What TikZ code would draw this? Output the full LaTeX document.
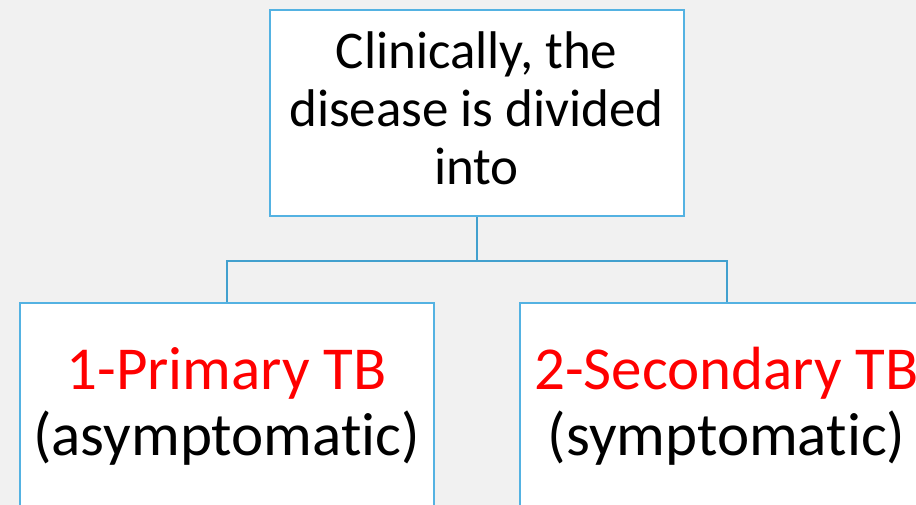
\documentclass[tikz,border=0pt]{standalone}
\usepackage{fontspec}
\usetikzlibrary{calc}
\setmainfont[Ligatures=NoCommon]{Carlito}
\definecolor{bg}{RGB}{241,241,241}
\definecolor{boxline}{RGB}{84,178,226}
\definecolor{conn}{RGB}{66,160,206}
\definecolor{tbred}{RGB}{255,0,0}
\tikzset{
  boxnode/.style={draw=boxline, line width=2.2pt, fill=white, minimum width=414pt, minimum height=206pt, inner sep=0pt, align=center, anchor=north west},
  connline/.style={draw=conn, line width=2.2pt},
  toptext/.style={font=\fontsize{53pt}{58pt}\selectfont},
  bottext/.style={font=\fontsize{61pt}{66pt}\selectfont}
}
\begin{document}
\begin{tikzpicture}[x=1pt,y=-1pt]
\useasboundingbox (0,0) rectangle (916,505);
\clip (0,0) rectangle (916,505);
\fill[bg] (0,0) rectangle (916,505);
\node[boxnode, toptext] (top) at (268.5,9) {Clinically, the\\disease is divided\\into\rule[-9pt]{0pt}{0pt}};
\node[boxnode, bottext] (left) at (18.5,302) {\textcolor{tbred}{1-Primary TB}\\(asymptomatic)};
\node[boxnode, bottext] (right) at (518.5,302) {\textcolor{tbred}{2-Secondary TB}\\(symptomatic)};
\coordinate (mid) at ($(top.south)+(0,44)$);
\draw[connline] (top.south) -- (mid);
\draw[connline] (mid) -| (left.north);
\draw[connline] (mid) -| (right.north);
\end{tikzpicture}
\end{document}
